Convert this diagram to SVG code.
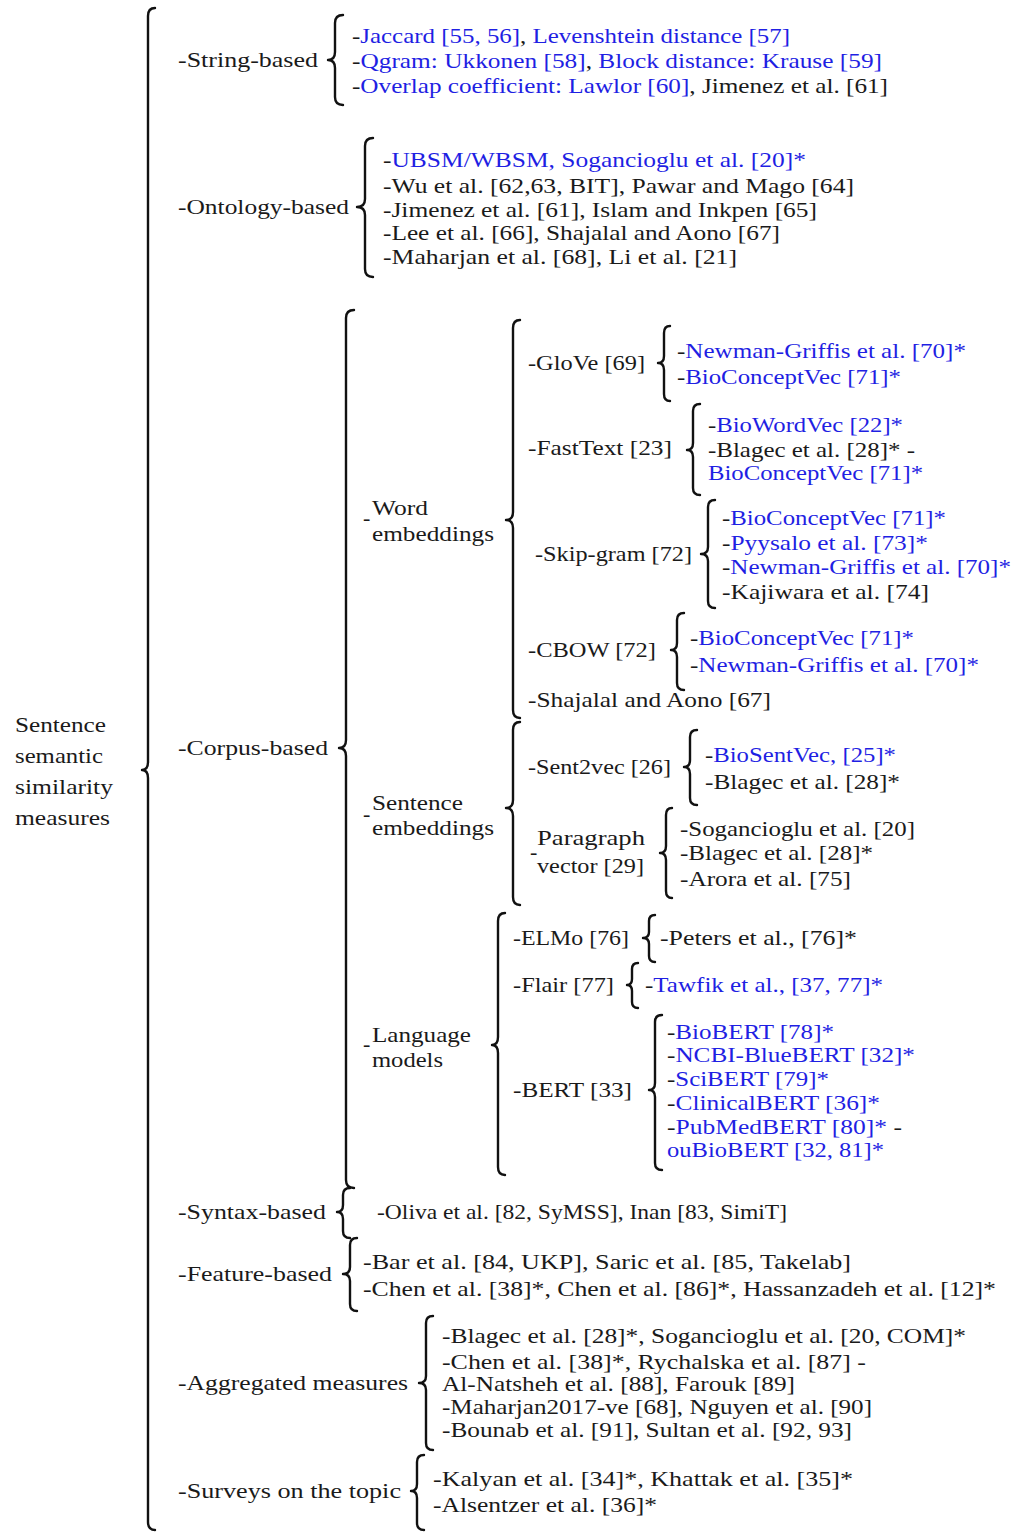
<svg xmlns="http://www.w3.org/2000/svg" width="1025" height="1532" viewBox="0 0 1025 1532">
<style>
text{font-family:"Liberation Serif","DejaVu Serif",serif;font-size:22px;fill:#1a1a1a}
.b{fill:#1f1fe3}
.br{fill:none;stroke:#111;stroke-width:2.4;stroke-linecap:round;stroke-linejoin:round}
</style>
<rect width="1025" height="1532" fill="#fff"/>
<g id="connectors">
<path class="br" d="M155,8 Q148,8 148,16 L148,762 Q148,770 142,770 Q148,770 148,778 L148,1522 Q148,1530 155,1530"/>
<path class="br" d="M343,15 Q335,15 335,23 L335,52 Q335,60 328,60 Q335,60 335,68 L335,97 Q335,105 343,105"/>
<path class="br" d="M373,138 Q365,138 365,146 L365,199 Q365,207 357,207 Q365,207 365,215 L365,269 Q365,277 373,277"/>
<path class="br" d="M354,310 Q346,310 346,318 L346,740 Q346,748 339,748 Q346,748 346,756 L346,1180 Q346,1188 354,1188"/>
<path class="br" d="M520,320 Q513,320 513,328 L513,512 Q513,520 506,520 Q513,520 513,528 L513,710 Q513,718 520,718"/>
<path class="br" d="M670,326 Q664,326 664,333 L664,356 Q664,363 658,363 Q664,363 664,370 L664,394 Q664,401 670,401"/>
<path class="br" d="M700,404 Q693,404 693,411 L693,443 Q693,450 687,450 Q693,450 693,457 L693,488 Q693,495 700,495"/>
<path class="br" d="M715,500 Q708,500 708,507 L708,547 Q708,554 701,554 Q708,554 708,561 L708,601 Q708,608 715,608"/>
<path class="br" d="M684,613 Q677,613 677,620 L677,643 Q677,650 671,650 Q677,650 677,657 L677,683 Q677,690 684,690"/>
<path class="br" d="M520,722 Q513,722 513,730 L513,800 Q513,808 506,808 Q513,808 513,816 L513,897 Q513,905 520,905"/>
<path class="br" d="M697,730 Q690,730 690,737 L690,760 Q690,767 684,767 Q690,767 690,774 L690,798 Q690,805 697,805"/>
<path class="br" d="M672,808 Q666,808 666,815 L666,846 Q666,853 660,853 Q666,853 666,860 L666,891 Q666,898 672,898"/>
<path class="br" d="M505,913 Q498,913 498,921 L498,1037 Q498,1045 492,1045 Q498,1045 498,1053 L498,1167 Q498,1175 505,1175"/>
<path class="br" d="M655,915 Q649,915 649,921 L649,932 Q649,938 643,938 Q649,938 649,944 L649,956 Q649,962 655,962"/>
<path class="br" d="M638,963 Q632,963 632,969 L632,979 Q632,985 627,985 Q632,985 632,991 L632,1002 Q632,1008 638,1008"/>
<path class="br" d="M662,1015 Q655,1015 655,1022 L655,1083 Q655,1090 649,1090 Q655,1090 655,1097 L655,1163 Q655,1170 662,1170"/>
<path class="br" d="M350,1188 Q343,1188 343,1195 L343,1205 Q343,1212 337,1212 Q343,1212 343,1219 L343,1231 Q343,1238 350,1238"/>
<path class="br" d="M357,1238 Q350,1238 350,1245 L350,1267 Q350,1274 343,1274 Q350,1274 350,1281 L350,1304 Q350,1311 357,1311"/>
<path class="br" d="M433,1316 Q426,1316 426,1323 L426,1376 Q426,1383 419,1383 Q426,1383 426,1390 L426,1443 Q426,1450 433,1450"/>
<path class="br" d="M424,1455 Q417,1455 417,1462 L417,1484 Q417,1491 411,1491 Q417,1491 417,1498 L417,1523 Q417,1530 424,1530"/>
</g>
<g id="root">
<text x="15" y="732" textLength="91" lengthAdjust="spacingAndGlyphs">Sentence</text>
<text x="15" y="763" textLength="88" lengthAdjust="spacingAndGlyphs">semantic</text>
<text x="15" y="794" textLength="98" lengthAdjust="spacingAndGlyphs">similarity</text>
<text x="15" y="825" textLength="95" lengthAdjust="spacingAndGlyphs">measures</text>
</g>
<g id="string-based">
<text x="178" y="67" textLength="140" lengthAdjust="spacingAndGlyphs">-String-based</text>
<text x="352" y="43" textLength="438" lengthAdjust="spacingAndGlyphs">-<tspan class="b">Jaccard [55, 56]</tspan>, <tspan class="b">Levenshtein distance [57]</tspan></text>
<text x="352" y="68" textLength="530" lengthAdjust="spacingAndGlyphs">-<tspan class="b">Qgram: Ukkonen [58]</tspan>, <tspan class="b">Block distance: Krause [59]</tspan></text>
<text x="352" y="93" textLength="536" lengthAdjust="spacingAndGlyphs">-<tspan class="b">Overlap coefficient: Lawlor [60]</tspan>, Jimenez et al. [61]</text>
</g>
<g id="ontology-based">
<text x="178" y="214" textLength="171" lengthAdjust="spacingAndGlyphs">-Ontology-based</text>
<text x="383" y="167" textLength="423" lengthAdjust="spacingAndGlyphs">-<tspan class="b">UBSM/WBSM, Sogancioglu et al. [20]*</tspan></text>
<text x="383" y="193" textLength="471" lengthAdjust="spacingAndGlyphs">-Wu et al. [62,63, BIT], Pawar and Mago [64]</text>
<text x="383" y="217" textLength="434" lengthAdjust="spacingAndGlyphs">-Jimenez et al. [61], Islam and Inkpen [65]</text>
<text x="383" y="240" textLength="397" lengthAdjust="spacingAndGlyphs">-Lee et al. [66], Shajalal and Aono [67]</text>
<text x="383" y="264" textLength="354" lengthAdjust="spacingAndGlyphs">-Maharjan et al. [68], Li et al. [21]</text>
</g>
<g id="corpus-based">
<text x="178" y="755" textLength="150" lengthAdjust="spacingAndGlyphs">-Corpus-based</text>
</g>
<g id="word-embeddings">
<text x="363" y="525">-</text>
<text x="372" y="515" textLength="56" lengthAdjust="spacingAndGlyphs">Word</text>
<text x="372" y="541" textLength="122" lengthAdjust="spacingAndGlyphs">embeddings</text>
</g>
<g id="glove">
<text x="528" y="370" textLength="117" lengthAdjust="spacingAndGlyphs">-GloVe [69]</text>
<text x="677" y="358" textLength="289" lengthAdjust="spacingAndGlyphs">-<tspan class="b">Newman-Griffis et al. [70]*</tspan></text>
<text x="677" y="384" textLength="224" lengthAdjust="spacingAndGlyphs">-<tspan class="b">BioConceptVec [71]*</tspan></text>
</g>
<g id="fasttext">
<text x="528" y="455" textLength="144" lengthAdjust="spacingAndGlyphs">-FastText [23]</text>
<text x="708" y="432" textLength="195" lengthAdjust="spacingAndGlyphs">-<tspan class="b">BioWordVec [22]*</tspan></text>
<text x="708" y="457" textLength="207" lengthAdjust="spacingAndGlyphs">-Blagec et al. [28]* -</text>
<text x="708" y="480" textLength="215" lengthAdjust="spacingAndGlyphs" class="b">BioConceptVec [71]*</text>
</g>
<g id="skip-gram">
<text x="535" y="561" textLength="157" lengthAdjust="spacingAndGlyphs">-Skip-gram [72]</text>
<text x="722" y="525" textLength="224" lengthAdjust="spacingAndGlyphs">-<tspan class="b">BioConceptVec [71]*</tspan></text>
<text x="722" y="550" textLength="206" lengthAdjust="spacingAndGlyphs">-<tspan class="b">Pyysalo et al. [73]*</tspan></text>
<text x="722" y="574" textLength="289" lengthAdjust="spacingAndGlyphs">-<tspan class="b">Newman-Griffis et al. [70]*</tspan></text>
<text x="722" y="599" textLength="207" lengthAdjust="spacingAndGlyphs">-Kajiwara et al. [74]</text>
</g>
<g id="cbow">
<text x="528" y="657" textLength="128" lengthAdjust="spacingAndGlyphs">-CBOW [72]</text>
<text x="690" y="645" textLength="224" lengthAdjust="spacingAndGlyphs">-<tspan class="b">BioConceptVec [71]*</tspan></text>
<text x="690" y="672" textLength="289" lengthAdjust="spacingAndGlyphs">-<tspan class="b">Newman-Griffis et al. [70]*</tspan></text>
</g>
<g id="shajalal">
<text x="528" y="707" textLength="243" lengthAdjust="spacingAndGlyphs">-Shajalal and Aono [67]</text>
</g>
<g id="sentence-embeddings">
<text x="363" y="821">-</text>
<text x="372" y="810" textLength="91" lengthAdjust="spacingAndGlyphs">Sentence</text>
<text x="372" y="835" textLength="122" lengthAdjust="spacingAndGlyphs">embeddings</text>
</g>
<g id="sent2vec">
<text x="528" y="774" textLength="143" lengthAdjust="spacingAndGlyphs">-Sent2vec [26]</text>
<text x="705" y="762" textLength="191" lengthAdjust="spacingAndGlyphs">-<tspan class="b">BioSentVec, [25]*</tspan></text>
<text x="705" y="789" textLength="195" lengthAdjust="spacingAndGlyphs">-Blagec et al. [28]*</text>
</g>
<g id="paragraph-vector">
<text x="530" y="859">-</text>
<text x="537" y="845" textLength="108" lengthAdjust="spacingAndGlyphs">Paragraph</text>
<text x="537" y="873" textLength="107" lengthAdjust="spacingAndGlyphs">vector [29]</text>
<text x="680" y="836" textLength="235" lengthAdjust="spacingAndGlyphs">-Sogancioglu et al. [20]</text>
<text x="680" y="860" textLength="193" lengthAdjust="spacingAndGlyphs">-Blagec et al. [28]*</text>
<text x="680" y="886" textLength="171" lengthAdjust="spacingAndGlyphs">-Arora et al. [75]</text>
</g>
<g id="language-models">
<text x="363" y="1051">-</text>
<text x="372" y="1042" textLength="99" lengthAdjust="spacingAndGlyphs">Language</text>
<text x="372" y="1067" textLength="71" lengthAdjust="spacingAndGlyphs">models</text>
</g>
<g id="elmo">
<text x="513" y="945" textLength="116" lengthAdjust="spacingAndGlyphs">-ELMo [76]</text>
<text x="660" y="945" textLength="197" lengthAdjust="spacingAndGlyphs">-Peters et al., [76]*</text>
</g>
<g id="flair">
<text x="513" y="992" textLength="101" lengthAdjust="spacingAndGlyphs">-Flair [77]</text>
<text x="645" y="992" textLength="238" lengthAdjust="spacingAndGlyphs">-<tspan class="b">Tawfik et al., [37, 77]*</tspan></text>
</g>
<g id="bert">
<text x="513" y="1097" textLength="119" lengthAdjust="spacingAndGlyphs">-BERT [33]</text>
<text x="667" y="1039" textLength="167" lengthAdjust="spacingAndGlyphs">-<tspan class="b">BioBERT [78]*</tspan></text>
<text x="667" y="1062" textLength="248" lengthAdjust="spacingAndGlyphs">-<tspan class="b">NCBI-BlueBERT [32]*</tspan></text>
<text x="667" y="1086" textLength="162" lengthAdjust="spacingAndGlyphs">-<tspan class="b">SciBERT [79]*</tspan></text>
<text x="667" y="1110" textLength="213" lengthAdjust="spacingAndGlyphs">-<tspan class="b">ClinicalBERT [36]*</tspan></text>
<text x="667" y="1134" textLength="235" lengthAdjust="spacingAndGlyphs">-<tspan class="b">PubMedBERT [80]*</tspan> -</text>
<text x="667" y="1157" textLength="217" lengthAdjust="spacingAndGlyphs" class="b">ouBioBERT [32, 81]*</text>
</g>
<g id="syntax-based">
<text x="178" y="1219" textLength="148" lengthAdjust="spacingAndGlyphs">-Syntax-based</text>
<text x="377" y="1219" textLength="410" lengthAdjust="spacingAndGlyphs">-Oliva et al. [82, SyMSS], Inan [83, SimiT]</text>
</g>
<g id="feature-based">
<text x="178" y="1281" textLength="154" lengthAdjust="spacingAndGlyphs">-Feature-based</text>
<text x="363" y="1269" textLength="488" lengthAdjust="spacingAndGlyphs">-Bar et al. [84, UKP], Saric et al. [85, Takelab]</text>
<text x="363" y="1296" textLength="633" lengthAdjust="spacingAndGlyphs">-Chen et al. [38]*, Chen et al. [86]*, Hassanzadeh et al. [12]*</text>
</g>
<g id="aggregated-measures">
<text x="178" y="1390" textLength="230" lengthAdjust="spacingAndGlyphs">-Aggregated measures</text>
<text x="442" y="1343" textLength="524" lengthAdjust="spacingAndGlyphs">-Blagec et al. [28]*, Sogancioglu et al. [20, COM]*</text>
<text x="442" y="1369" textLength="424" lengthAdjust="spacingAndGlyphs">-Chen et al. [38]*, Rychalska et al. [87] -</text>
<text x="442" y="1391" textLength="353" lengthAdjust="spacingAndGlyphs">Al-Natsheh et al. [88], Farouk [89]</text>
<text x="442" y="1414" textLength="430" lengthAdjust="spacingAndGlyphs">-Maharjan2017-ve [68], Nguyen et al. [90]</text>
<text x="442" y="1437" textLength="410" lengthAdjust="spacingAndGlyphs">-Bounab et al. [91], Sultan et al. [92, 93]</text>
</g>
<g id="surveys">
<text x="178" y="1498" textLength="223" lengthAdjust="spacingAndGlyphs">-Surveys on the topic</text>
<text x="433" y="1486" textLength="420" lengthAdjust="spacingAndGlyphs">-Kalyan et al. [34]*, Khattak et al. [35]*</text>
<text x="433" y="1512" textLength="224" lengthAdjust="spacingAndGlyphs">-Alsentzer et al. [36]*</text>
</g>
</svg>
